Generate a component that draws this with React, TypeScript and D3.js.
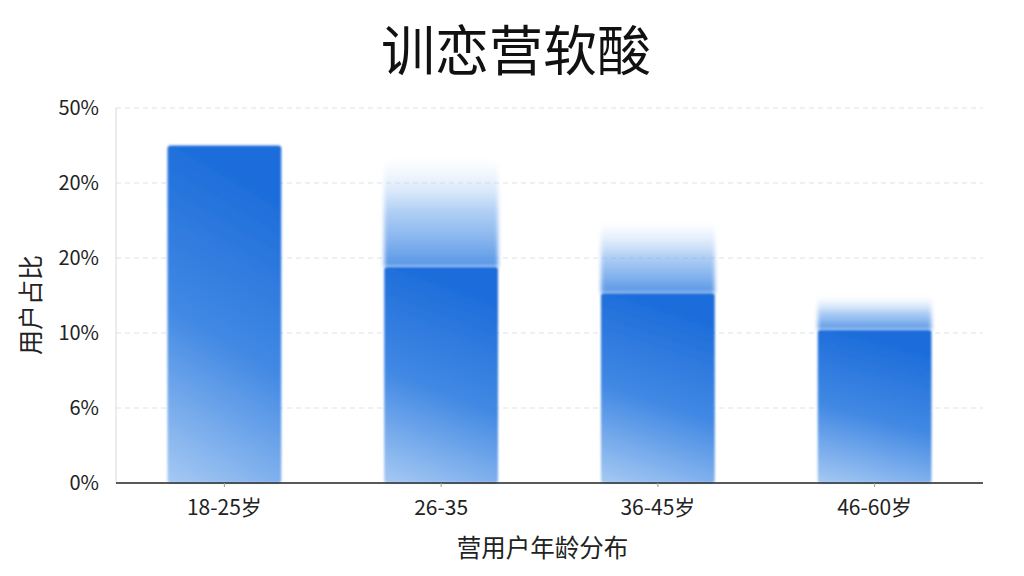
import * as d3 from "d3";

const categories = ["18-25岁", "26-35", "36-45岁", "46-60岁"];
const shares = [45, 28.8, 25.3, 20.4];
const ghostShares = [45, 43.5, 35, 25];
const yTickValues = [0, 10, 20, 30, 40, 50];
const yTickLabels = ["0%", "6%", "10%", "20%", "20%", "50%"];

const title = "训恋营软酸";
const xTitle = "营用户年龄分布";
const yTitle = "用户占比";

const width = 1024;
const height = 576;
const margin = { top: 108, right: 41, bottom: 93, left: 116 };
const font = "'Noto Sans CJK SC', 'Noto Sans', sans-serif";

export default function App(): JSX.Element {
  const x = d3
    .scaleBand<string>()
    .domain(categories)
    .range([margin.left, width - margin.right])
    .paddingInner(0.475)
    .paddingOuter(0.2375);

  const y = d3
    .scaleLinear()
    .domain([0, 50])
    .range([height - margin.bottom, margin.top]);

  const y0 = y(0);

  return (
    <svg
      width={width}
      height={height}
      style={{ position: "absolute", left: 0, top: 0, background: "#fff" }}
      fontFamily={font}
    >
      <defs>
        <linearGradient id="barFill" x1="0.2" y1="0" x2="0" y2="1">
          <stop offset="0" stopColor="#1d6ddb" />
          <stop offset="0.5" stopColor="#4289e3" />
          <stop offset="1" stopColor="#a6c9f3" />
        </linearGradient>
        <linearGradient id="ghostFill" x1="0" y1="1" x2="0" y2="0">
          <stop offset="0" stopColor="#4389e4" stopOpacity="0.9" />
          <stop offset="0.5" stopColor="#7aaeed" stopOpacity="0.6" />
          <stop offset="1" stopColor="#cfe2fa" stopOpacity="0" />
        </linearGradient>
        <filter id="soft" x="-10%" y="-10%" width="120%" height="120%">
          <feGaussianBlur stdDeviation="1.3" />
        </filter>
        <filter id="softer" x="-10%" y="-20%" width="120%" height="140%">
          <feGaussianBlur stdDeviation="2.2" />
        </filter>
      </defs>

      <text
        x={width / 2 + 4}
        y={71}
        textAnchor="middle"
        fontSize={54}
        fill="#111"
      >
        {title}
      </text>

      {/* grid */}
      {yTickValues
        .filter((v) => v > 0)
        .map((v) => (
          <line
            key={`g${v}`}
            x1={margin.left}
            x2={width - margin.right}
            y1={y(v)}
            y2={y(v)}
            stroke="#dde3e8"
            strokeDasharray="5,4"
          />
        ))}
      <line
        x1={margin.left}
        x2={margin.left}
        y1={y(50)}
        y2={y0}
        stroke="#d4d8dc"
      />

      {/* ghost tops */}
      {categories.map((c, i) =>
        ghostShares[i] > shares[i] ? (
          <rect
            key={`gh${c}`}
            x={x(c)!}
            y={y(ghostShares[i])}
            width={x.bandwidth()}
            height={y(shares[i]) - y(ghostShares[i])}
            fill="url(#ghostFill)"
            filter="url(#softer)"
          />
        ) : null
      )}

      {/* bars */}
      {categories.map((c, i) => (
        <rect
          key={`b${c}`}
          x={x(c)!}
          y={y(shares[i])}
          width={x.bandwidth()}
          height={y0 - y(shares[i])}
          rx={3}
          fill="url(#barFill)"
          filter="url(#soft)"
        />
      ))}

      {/* x axis */}
      <line
        x1={margin.left}
        x2={width - margin.right}
        y1={y0}
        y2={y0}
        stroke="#222"
        strokeWidth={1.5}
      />
      {categories.map((c) => (
        <g key={`xt${c}`} transform={`translate(${x(c)! + x.bandwidth() / 2},0)`}>
          <line y1={y0} y2={y0 + 4} stroke="#999" />
          <text y={y0 + 32} textAnchor="middle" fontSize={21} fill="#222">
            {c}
          </text>
        </g>
      ))}
      <text
        x={(margin.left + width - margin.right) / 2 - 7}
        y={557}
        textAnchor="middle"
        fontSize={24.5}
        fill="#222"
      >
        {xTitle}
      </text>

      {/* y axis labels */}
      {yTickValues.map((v, i) => (
        <text
          key={`yt${v}`}
          x={99}
          y={y(v)}
          dy="0.36em"
          textAnchor="end"
          fontSize={20}
          fill="#222"
        >
          {yTickLabels[i]}
        </text>
      ))}
      <text
        transform={`translate(40,${305}) rotate(-90)`}
        textAnchor="middle"
        fontSize={25}
        fill="#222"
      >
        {yTitle}
      </text>
    </svg>
  );
}
